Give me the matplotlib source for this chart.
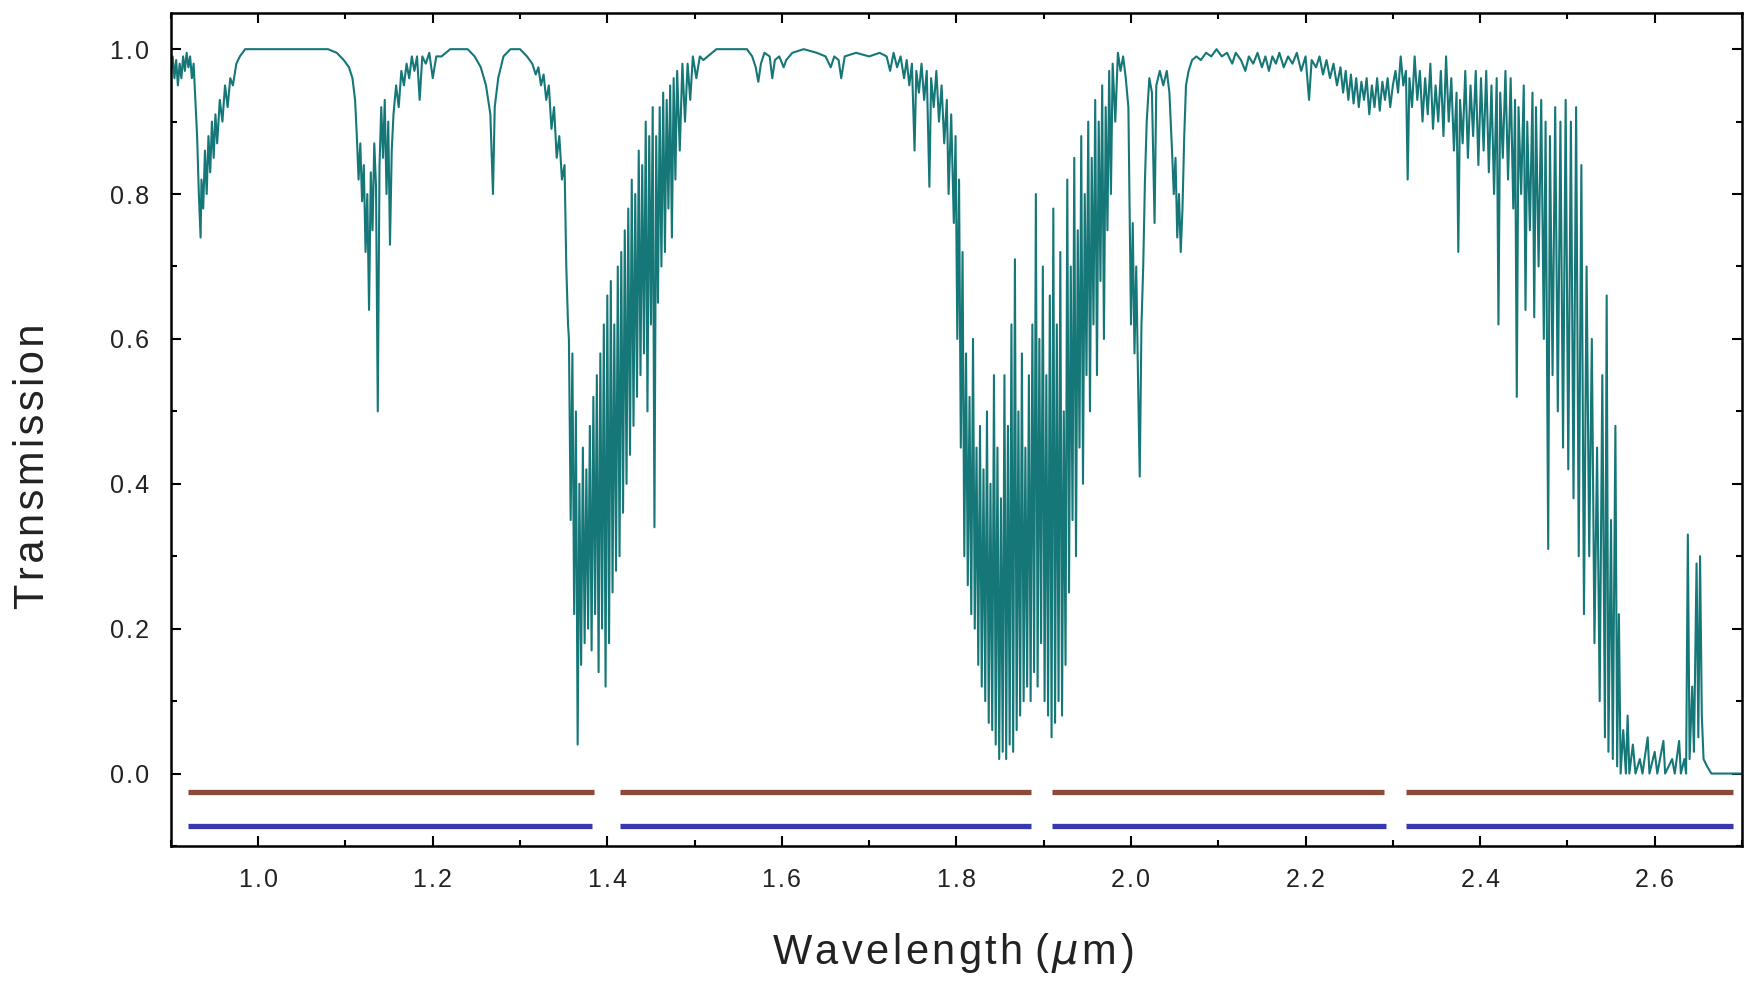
import matplotlib
matplotlib.use("Agg")
import matplotlib.pyplot as plt
from matplotlib.ticker import MultipleLocator, FuncFormatter

plt.rcParams['font.family'] = ['Liberation Sans', 'DejaVu Sans']

# spectrum, split into bands: (wavelength um, transmission)
band_094 = [(0.900, 0.97), (0.902, 0.99), (0.904, 0.96), (0.906, 0.985), (0.908, 0.95),
            (0.910, 0.98), (0.912, 0.96), (0.914, 0.99), (0.916, 0.97), (0.918, 0.995),
            (0.920, 0.975), (0.922, 0.99), (0.924, 0.96), (0.926, 0.98), (0.928, 0.93),
            (0.930, 0.88), (0.932, 0.80), (0.934, 0.74), (0.935, 0.82), (0.937, 0.78),
            (0.939, 0.86), (0.941, 0.80), (0.943, 0.88), (0.945, 0.83), (0.947, 0.90),
            (0.949, 0.85), (0.951, 0.91), (0.953, 0.87), (0.956, 0.93), (0.959, 0.90),
            (0.962, 0.95), (0.965, 0.92), (0.968, 0.96), (0.971, 0.95), (0.975, 0.98),
            (0.979, 0.99), (0.985, 1.0)]

band_114 = [(1.000, 1.0), (1.040, 1.0), (1.080, 1.0), (1.090, 0.995), (1.098, 0.985),
            (1.104, 0.975), (1.108, 0.96), (1.111, 0.93), (1.113, 0.88), (1.115, 0.82),
            (1.117, 0.87), (1.119, 0.79), (1.121, 0.84), (1.123, 0.72), (1.125, 0.80),
            (1.127, 0.64), (1.129, 0.83), (1.131, 0.75), (1.133, 0.87), (1.135, 0.81),
            (1.137, 0.50), (1.139, 0.84), (1.141, 0.92), (1.143, 0.85), (1.145, 0.93),
            (1.147, 0.80), (1.149, 0.90), (1.151, 0.73), (1.153, 0.86), (1.155, 0.91),
            (1.158, 0.95), (1.161, 0.92), (1.164, 0.97), (1.167, 0.95), (1.170, 0.98),
            (1.173, 0.96), (1.176, 0.99), (1.179, 0.97), (1.182, 0.99), (1.185, 0.93),
            (1.188, 0.99), (1.192, 0.98), (1.196, 0.995), (1.200, 0.96), (1.204, 0.99),
            (1.210, 0.99), (1.220, 1.0), (1.240, 1.0), (1.248, 0.99), (1.255, 0.975),
            (1.261, 0.95), (1.266, 0.91), (1.269, 0.80), (1.271, 0.92), (1.275, 0.96),
            (1.281, 0.99), (1.289, 1.0), (1.300, 1.0), (1.308, 0.99), (1.314, 0.98),
            (1.318, 0.965), (1.321, 0.975), (1.324, 0.95), (1.327, 0.965), (1.330, 0.93),
            (1.333, 0.95), (1.336, 0.89), (1.339, 0.92), (1.342, 0.85), (1.345, 0.88),
            (1.348, 0.82), (1.351, 0.84), (1.353, 0.70), (1.355, 0.62)]

band_138 = [(1.356, 0.60), (1.358, 0.35), (1.360, 0.58), (1.362, 0.22), (1.364, 0.50),
            (1.366, 0.04), (1.368, 0.40), (1.370, 0.15), (1.372, 0.45), (1.374, 0.18),
            (1.376, 0.42), (1.378, 0.20), (1.380, 0.48), (1.382, 0.17), (1.384, 0.52),
            (1.386, 0.22), (1.388, 0.55), (1.390, 0.14), (1.392, 0.58), (1.394, 0.20),
            (1.396, 0.62), (1.398, 0.12), (1.400, 0.66), (1.402, 0.18), (1.404, 0.68),
            (1.406, 0.25), (1.408, 0.62), (1.410, 0.28), (1.412, 0.70), (1.414, 0.30),
            (1.416, 0.72), (1.418, 0.36), (1.420, 0.75), (1.422, 0.40), (1.424, 0.78),
            (1.426, 0.44), (1.428, 0.82), (1.430, 0.48), (1.432, 0.80), (1.434, 0.52),
            (1.436, 0.86), (1.438, 0.55), (1.440, 0.84), (1.442, 0.58), (1.444, 0.90),
            (1.446, 0.50), (1.448, 0.88), (1.450, 0.62), (1.452, 0.92), (1.454, 0.34),
            (1.456, 0.88), (1.458, 0.65), (1.460, 0.92), (1.462, 0.70), (1.464, 0.94),
            (1.466, 0.72), (1.468, 0.93), (1.470, 0.78), (1.472, 0.95), (1.474, 0.74),
            (1.476, 0.96), (1.478, 0.82), (1.480, 0.97), (1.483, 0.86), (1.486, 0.98),
            (1.489, 0.90), (1.492, 0.98), (1.495, 0.93), (1.498, 0.99), (1.502, 0.96),
            (1.506, 0.99), (1.510, 0.985)]

band_160 = [(1.515, 0.99), (1.525, 1.0), (1.560, 1.0), (1.566, 0.99), (1.570, 0.975),
            (1.573, 0.955), (1.576, 0.98), (1.580, 0.995), (1.586, 0.99), (1.589, 0.96),
            (1.592, 0.985), (1.597, 0.99), (1.602, 0.975), (1.605, 0.985), (1.612, 0.995),
            (1.625, 1.0), (1.640, 0.995), (1.650, 0.99), (1.656, 0.975), (1.660, 0.99),
            (1.665, 0.985), (1.668, 0.96), (1.672, 0.99), (1.685, 0.995), (1.700, 0.99),
            (1.712, 0.995), (1.720, 0.99), (1.724, 0.97), (1.728, 0.995), (1.732, 0.975),
            (1.736, 0.99), (1.740, 0.96), (1.743, 0.985), (1.746, 0.95), (1.749, 0.98),
            (1.752, 0.86), (1.754, 0.97), (1.757, 0.94), (1.760, 0.98), (1.763, 0.93),
            (1.766, 0.97), (1.769, 0.81), (1.771, 0.96), (1.774, 0.92), (1.777, 0.97),
            (1.780, 0.90), (1.783, 0.95), (1.786, 0.87), (1.789, 0.93), (1.791, 0.80),
            (1.794, 0.91), (1.797, 0.76), (1.799, 0.88), (1.801, 0.60), (1.803, 0.82),
            (1.805, 0.45), (1.807, 0.72), (1.809, 0.30)]

band_187 = [(1.811, 0.58), (1.813, 0.26), (1.815, 0.52), (1.817, 0.22), (1.819, 0.60),
            (1.821, 0.20), (1.823, 0.45), (1.825, 0.15), (1.827, 0.48), (1.829, 0.12),
            (1.831, 0.42), (1.833, 0.10), (1.835, 0.50), (1.837, 0.07), (1.839, 0.40),
            (1.841, 0.06), (1.843, 0.55), (1.845, 0.04), (1.847, 0.45), (1.849, 0.02),
            (1.851, 0.38), (1.853, 0.03), (1.855, 0.55), (1.857, 0.02), (1.859, 0.48),
            (1.861, 0.04), (1.863, 0.62), (1.865, 0.03), (1.867, 0.71), (1.869, 0.06),
            (1.871, 0.50), (1.873, 0.08), (1.875, 0.58), (1.877, 0.10), (1.879, 0.45),
            (1.881, 0.12), (1.883, 0.55), (1.885, 0.10), (1.887, 0.62), (1.889, 0.14),
            (1.891, 0.80), (1.893, 0.12), (1.895, 0.60), (1.897, 0.18), (1.899, 0.70),
            (1.901, 0.10), (1.903, 0.55), (1.905, 0.08), (1.907, 0.66), (1.909, 0.05),
            (1.911, 0.78), (1.913, 0.07), (1.915, 0.62), (1.917, 0.10), (1.919, 0.72),
            (1.921, 0.08), (1.923, 0.50), (1.925, 0.15), (1.927, 0.82), (1.929, 0.25),
            (1.931, 0.70), (1.933, 0.35), (1.935, 0.85), (1.937, 0.30), (1.939, 0.75),
            (1.941, 0.45), (1.943, 0.88), (1.945, 0.40), (1.947, 0.80), (1.949, 0.55),
            (1.951, 0.90), (1.953, 0.50), (1.955, 0.85), (1.957, 0.62), (1.959, 0.93),
            (1.961, 0.55), (1.963, 0.90), (1.965, 0.68), (1.967, 0.95), (1.969, 0.60),
            (1.971, 0.92), (1.973, 0.75), (1.975, 0.97), (1.977, 0.80), (1.979, 0.98),
            (1.982, 0.90), (1.985, 0.995), (1.988, 0.97), (1.991, 0.99), (1.994, 0.96),
            (1.997, 0.92)]

band_215 = [(2.000, 0.62), (2.002, 0.76), (2.004, 0.58), (2.006, 0.70), (2.008, 0.55),
            (2.010, 0.41), (2.012, 0.62), (2.014, 0.70), (2.016, 0.82), (2.018, 0.90),
            (2.021, 0.96), (2.024, 0.94), (2.027, 0.76), (2.029, 0.95), (2.033, 0.97),
            (2.037, 0.95), (2.041, 0.97), (2.044, 0.94), (2.047, 0.86), (2.049, 0.80),
            (2.051, 0.85), (2.053, 0.74), (2.055, 0.80), (2.057, 0.72), (2.059, 0.78),
            (2.061, 0.88), (2.063, 0.95), (2.066, 0.97), (2.070, 0.985), (2.075, 0.99),
            (2.080, 0.985), (2.086, 0.995), (2.092, 0.99), (2.098, 1.0), (2.104, 0.99),
            (2.110, 0.995), (2.116, 0.98), (2.120, 0.995), (2.126, 0.985), (2.131, 0.97),
            (2.135, 0.99), (2.140, 0.98), (2.145, 0.995), (2.150, 0.975), (2.154, 0.99),
            (2.158, 0.97), (2.162, 0.99), (2.166, 0.98), (2.170, 0.995), (2.175, 0.975),
            (2.180, 0.99), (2.185, 0.98), (2.190, 0.995), (2.195, 0.97), (2.200, 0.99),
            (2.204, 0.93), (2.207, 0.985), (2.212, 0.975), (2.216, 0.99), (2.220, 0.965),
            (2.224, 0.985), (2.228, 0.96), (2.232, 0.98), (2.236, 0.95), (2.240, 0.975),
            (2.243, 0.94), (2.246, 0.97), (2.249, 0.93), (2.252, 0.965), (2.255, 0.925),
            (2.258, 0.96), (2.261, 0.92), (2.264, 0.955), (2.267, 0.93), (2.270, 0.96),
            (2.273, 0.91), (2.276, 0.95), (2.279, 0.92), (2.282, 0.96), (2.285, 0.915),
            (2.288, 0.955), (2.291, 0.93), (2.294, 0.96), (2.297, 0.92), (2.300, 0.95)]

band_260 = [(2.303, 0.97), (2.306, 0.94), (2.309, 0.99), (2.312, 0.95), (2.315, 0.97),
            (2.317, 0.82), (2.319, 0.96), (2.322, 0.92), (2.325, 0.99), (2.328, 0.93),
            (2.331, 0.97), (2.334, 0.90), (2.337, 0.96), (2.340, 0.91), (2.343, 0.98),
            (2.346, 0.89), (2.349, 0.95), (2.352, 0.90), (2.355, 0.97), (2.358, 0.88),
            (2.361, 0.99), (2.364, 0.90), (2.367, 0.96), (2.370, 0.86), (2.373, 0.94),
            (2.375, 0.72), (2.377, 0.93), (2.380, 0.87), (2.383, 0.97), (2.386, 0.85),
            (2.389, 0.95), (2.392, 0.88), (2.395, 0.97), (2.398, 0.84), (2.401, 0.96),
            (2.404, 0.86), (2.407, 0.97), (2.410, 0.83), (2.413, 0.95), (2.416, 0.80),
            (2.419, 0.96), (2.421, 0.62), (2.423, 0.94), (2.426, 0.85), (2.429, 0.97),
            (2.432, 0.82), (2.435, 0.96), (2.438, 0.78), (2.440, 0.93), (2.442, 0.52),
            (2.444, 0.92), (2.447, 0.80), (2.450, 0.95), (2.452, 0.64), (2.454, 0.90),
            (2.457, 0.75), (2.460, 0.94), (2.462, 0.63), (2.464, 0.92), (2.467, 0.70),
            (2.470, 0.93), (2.473, 0.60), (2.475, 0.90), (2.478, 0.31), (2.480, 0.88),
            (2.483, 0.55), (2.486, 0.92), (2.489, 0.50), (2.492, 0.90), (2.495, 0.45),
            (2.498, 0.93), (2.501, 0.42), (2.504, 0.90), (2.507, 0.38), (2.510, 0.92),
            (2.513, 0.30), (2.516, 0.84), (2.519, 0.22), (2.522, 0.70), (2.525, 0.30),
            (2.528, 0.60), (2.531, 0.18), (2.534, 0.45), (2.537, 0.10), (2.540, 0.55),
            (2.543, 0.05), (2.545, 0.66), (2.547, 0.03), (2.550, 0.35), (2.552, 0.02),
            (2.555, 0.48), (2.557, 0.01), (2.559, 0.22), (2.561, 0.0), (2.564, 0.06),
            (2.567, 0.0), (2.569, 0.08), (2.571, 0.0), (2.575, 0.04), (2.578, 0.0),
            (2.583, 0.02), (2.586, 0.0), (2.592, 0.05), (2.594, 0.0), (2.600, 0.03),
            (2.603, 0.0), (2.610, 0.045), (2.612, 0.0), (2.620, 0.02), (2.623, 0.0),
            (2.628, 0.045), (2.630, 0.0), (2.634, 0.02), (2.636, 0.0), (2.638, 0.33),
            (2.640, 0.02), (2.643, 0.12), (2.645, 0.03), (2.648, 0.29), (2.650, 0.05),
            (2.652, 0.30), (2.654, 0.08), (2.656, 0.02), (2.660, 0.01), (2.665, 0.0),
            (2.700, 0.0)]

# window bars below the spectrum: (start, end) in um
brown_bars = [(0.92, 1.385), (1.415, 1.885), (1.910, 2.290), (2.315, 2.690)]
blue_bars = [(0.92, 1.382), (1.415, 1.885), (1.910, 2.292), (2.315, 2.690)]
brown_level = -0.025
blue_level = -0.073

spectrum = band_094 + band_114 + band_138 + band_160 + band_187 + band_215 + band_260
wavelength = [p[0] for p in spectrum]
transmission = [p[1] for p in spectrum]

HS = '\u200a'  # hair space, gives the spaced-out lettering of the original


def spaced(s):
    return HS.join(s)


fig = plt.figure(figsize=(17.53, 9.89), dpi=100)
ax = fig.add_axes([0.0975, 0.1446, 0.8962, 0.8423])

ax.plot(wavelength, transmission, color='#157777', lw=1.5)

for x0, x1 in brown_bars:
    ax.plot([x0, x1], [brown_level, brown_level], color='#8a4a3a', lw=3.8,
            solid_capstyle='butt')
for x0, x1 in blue_bars:
    ax.plot([x0, x1], [blue_level, blue_level], color='#3838b0', lw=3.8,
            solid_capstyle='butt')

ax.set_xlim(0.9, 2.7)
ax.set_ylim(-0.1, 1.05)

ax.xaxis.set_major_locator(MultipleLocator(0.2))
ax.xaxis.set_minor_locator(MultipleLocator(0.1))
ax.yaxis.set_major_locator(MultipleLocator(0.2))
ax.yaxis.set_minor_locator(MultipleLocator(0.1))
fmt = FuncFormatter(lambda v, pos: spaced('%.1f' % v))
ax.xaxis.set_major_formatter(fmt)
ax.yaxis.set_major_formatter(fmt)

ax.tick_params(which='both', direction='in', top=True, right=True, width=1.5,
               colors='black', labelcolor='#222222', labelsize=18)
ax.tick_params(which='major', length=7, pad=16)
ax.tick_params(which='minor', length=4)
for s in ax.spines.values():
    s.set_linewidth(1.8)

fig.text(0.0191, 0.529, spaced('Transmission'), rotation=90, ha='center', va='center',
         fontsize=30, color='#222222')
fig.text(0.5435, 0.036, spaced('Wavelength') + ' (' + HS + '$\\mu$' + HS + 'm' + HS + ')',
         ha='center', va='center', fontsize=30, color='#222222')

fig.savefig('out.png', dpi=100)
